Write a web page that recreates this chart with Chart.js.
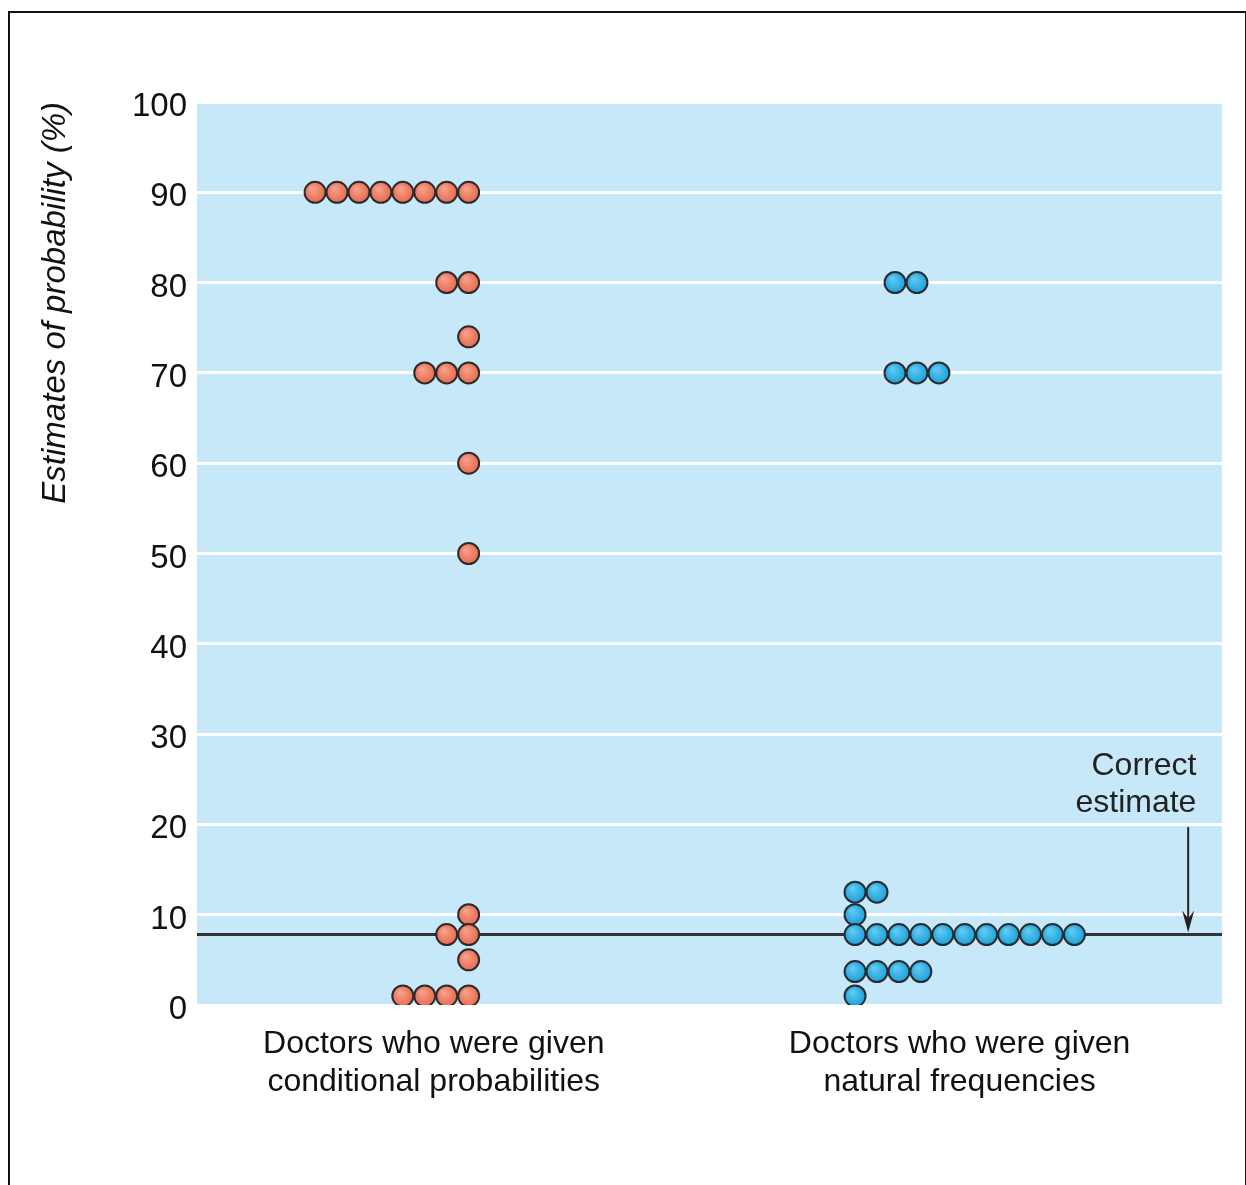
<!DOCTYPE html>
<html>
<head>
<meta charset="utf-8">
<script src="https://cdn.jsdelivr.net/npm/chart.js@4.4.0/dist/chart.umd.min.js"></script>
<style>
  html,body{margin:0;padding:0;background:#fff;overflow:hidden}
  #wrap{position:absolute;left:0;top:0;width:1246px;height:1185px}
  #frame{position:absolute;left:8px;top:11px;width:1235px;height:1200px;border:2px solid #111;pointer-events:none}
</style>
</head>
<body>
<div id="wrap"><canvas id="c" width="1246" height="1185"></canvas></div>
<div id="frame"></div>
<script>
// data
const categories = [
  ['Doctors who were given', 'conditional probabilities'],
  ['Doctors who were given', 'natural frequencies']
];
const conditionalEstimates = [90,90,90,90,90,90,90,90, 80,80, 74, 70,70,70, 60, 50, 10, 7.8,7.8, 5, 1,1,1,1];
const naturalEstimates = [80,80, 70,70,70, 12.5,12.5, 10, 7.8,7.8,7.8,7.8,7.8,7.8,7.8,7.8,7.8,7.8,7.8, 3.7,3.7,3.7,3.7, 1];
const correctEstimate = 7.8;
const correctLabel = ['Correct', 'estimate'];
const yTickValues = [0,10,20,30,40,50,60,70,80,90,100];
const yTitle = 'Estimates of probability (%)';

// layout (x axis runs 0..100 across the plot)
const SLOT = 2.14, LEFT_ANCHOR = 26.5, RIGHT_ANCHOR = 64.2, RIGHT_UPPER_ANCHOR = 68.1;
const LABEL_POS = [23.1, 74.4], ARROW_X = 96.7;
const FONT = "'Liberation Sans',Arial,sans-serif";

function stack(values, anchorFor, dir){
  const seen = {};
  return values.map(v => { const k = seen[v] || 0; seen[v] = k + 1; return {x: anchorFor(v) + dir*k*SLOT, y: v}; });
}

const panel = {
  id: 'panel',
  beforeDraw(chart){
    const {ctx, chartArea: a} = chart;
    ctx.save(); ctx.fillStyle = '#c7e8f9';
    ctx.fillRect(a.left, a.top, a.right - a.left, a.bottom - a.top);
    ctx.restore();
  },
  afterDatasetsDraw(chart){
    const {ctx, scales: {x, y}} = chart;
    const ax = x.getPixelForValue(ARROW_X);
    const y0 = y.getPixelForValue(19.7), y1 = y.getPixelForValue(correctEstimate) - 2;
    ctx.save();
    ctx.strokeStyle = '#222'; ctx.fillStyle = '#222'; ctx.lineWidth = 2;
    ctx.beginPath(); ctx.moveTo(ax, y0); ctx.lineTo(ax, y1 - 14); ctx.stroke();
    ctx.beginPath(); ctx.moveTo(ax - 6, y1 - 22); ctx.lineTo(ax, y1 - 14); ctx.lineTo(ax + 6, y1 - 22);
    ctx.lineTo(ax, y1); ctx.closePath(); ctx.fill();
    ctx.font = '32px ' + FONT; ctx.textAlign = 'right'; ctx.textBaseline = 'middle';
    const tx = x.getPixelForValue(97.5);
    ctx.fillText(correctLabel[0], tx, y.getPixelForValue(26.4));
    ctx.fillText(correctLabel[1], tx, y.getPixelForValue(22.4));
    ctx.restore();
  }
};

// shaded ball fill, lighter towards the top left
function ball(light, base){
  return (c) => {
    const ch = c.chart, sx = ch.scales.x, sy = ch.scales.y;
    if (!c.raw || !sx || !sy) return base;
    const px = sx.getPixelForValue(c.raw.x), py = sy.getPixelForValue(c.raw.y);
    if (!isFinite(px) || !isFinite(py)) return base;
    const g = ch.ctx.createRadialGradient(px - 3, py - 4, 1, px, py, 11);
    g.addColorStop(0, light); g.addColorStop(1, base);
    return g;
  };
}

const dot = (light, base) => ({
  type: 'scatter', pointRadius: 10.5, pointHoverRadius: 10.5,
  pointBackgroundColor: ball(light, base), pointBorderColor: '#2b2b2b', pointBorderWidth: 2
});

new Chart(document.getElementById('c'), {
  data: {
    datasets: [
      Object.assign({label: 'conditional', data: stack(conditionalEstimates, () => LEFT_ANCHOR, -1)}, dot('#f8a08a', '#e5694d')),
      Object.assign({label: 'natural', data: stack(naturalEstimates, v => v >= 50 ? RIGHT_UPPER_ANCHOR : RIGHT_ANCHOR, 1)}, dot('#5fcaf2', '#1a9fd8')),
      {type: 'line', label: 'correct', data: [{x: 0, y: correctEstimate}, {x: 100, y: correctEstimate}],
       borderColor: '#333', borderWidth: 3, pointRadius: 0}
    ]
  },
  options: {
    responsive: false, animation: false, devicePixelRatio: 1,
    layout: {padding: {top: 102, right: 24, left: 0, bottom: 0}},
    plugins: {legend: {display: false}, tooltip: {enabled: false}},
    scales: {
      x: {
        type: 'linear', min: 0, max: 100,
        afterBuildTicks: s => { s.ticks = LABEL_POS.map(v => ({value: v})); },
        afterFit: s => { s.height = 180; },
        grid: {display: false}, border: {display: false},
        ticks: {
          padding: 13, color: '#111', maxRotation: 0, autoSkip: false,
          font: {family: FONT, size: 32, lineHeight: 1.16},
          callback: (v, i) => categories[i]
        }
      },
      y: {
        min: 0, max: 100,
        afterBuildTicks: s => { s.ticks = yTickValues.map(v => ({value: v})); },
        afterFit: s => { s.width = 197; },
        grid: {color: '#fff', lineWidth: 3, drawTicks: false}, border: {display: false},
        ticks: {padding: 10, labelOffset: 5, color: '#111', font: {family: FONT, size: 33}},
        title: {display: true, text: yTitle, align: 'end', color: '#111',
                font: {family: FONT, size: 33, style: 'italic'}, padding: {top: 36, bottom: 0}}
      }
    }
  },
  plugins: [panel]
});
</script>
</body>
</html>
